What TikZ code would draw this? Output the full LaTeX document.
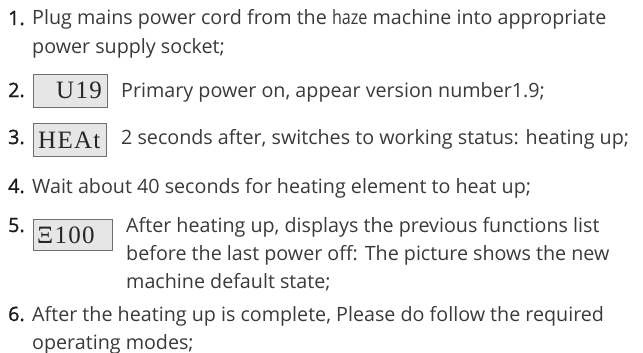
\documentclass[tikz,border=0pt]{standalone}
\usepackage{fontspec}
\setmainfont{Open Sans}
\newfontfamily\lcdfont[LetterSpace=5]{Liberation Serif}
\newfontfamily\numfont[FakeBold=1.2]{Open Sans}
\definecolor{txtc}{HTML}{3A3A3A}
\definecolor{numc}{HTML}{1A1A1A}
\definecolor{boxfill}{HTML}{E6E6E6}
\definecolor{boxline}{HTML}{6E6E6E}
\begin{document}
\begin{tikzpicture}[x=1pt,y=-1pt,
  line/.style={anchor=base west, inner sep=0pt, text=txtc, font=\fontsize{19.7}{29}\selectfont},
  num/.style={anchor=base west, inner sep=0pt, text=numc, font=\numfont\fontsize{19.7}{29}\selectfont},
  lcd/.style={draw=boxline, fill=boxfill, line width=1pt, anchor=north west, inner sep=0pt},
  lcdtext/.style={anchor=base west, inner sep=0pt, text=black!85, font=\lcdfont\fontsize{25}{25}\selectfont}]
\useasboundingbox (0,0) rectangle (643,353);
% item 1
\node[num] (n1) at (8,25) {1.};
\node[line] (t1a) at (32,25) {Plug mains power cord from the \scalebox{0.82}[1]{haze} machine into appropriate};
\node[line] (t1b) at (32,54) {power supply socket;};
% item 2
\node[num] (n2) at (8,97) {2.};
\node[lcd, minimum width=74pt, minimum height=33pt] (b2) at (33,74) {};
\node[lcdtext] (d2) at (56,99) {U19};
\node[line] (t2) at (121,97) {Primary power on, appear version number1.9;};
% item 3
\node[num] (n3) at (8,144) {3.};
\node[lcd, minimum width=73pt, minimum height=33pt] (b3) at (33,123) {};
\node[lcdtext] (d3) at (38,148) {HEAt};
\node[line] (t3) at (121,144) {2 seconds after, switches to working status: heating up;};
% item 4
\node[num] (n4) at (8,193) {4.};
\node[line] (t4) at (32,193) {Wait about 40 seconds for heating element to heat up;};
% item 5
\node[num] (n5) at (8,232) {5.};
\node[lcd, minimum width=79pt, minimum height=31pt] (b5) at (33,219) {};
\node[lcdtext] (d5) at (37,243) {Ξ100};
\node[line] (t5a) at (126,232) {After heating up, displays the previous functions list};
\node[line] (t5b) at (126,260) {before the last power off: The picture shows the new};
\node[line] (t5c) at (126,288) {machine default state;};
% item 6
\node[num] (n6) at (8,321) {6.};
\node[line] (t6a) at (32,321) {After the heating up is complete, Please do follow the required};
\node[line] (t6b) at (32,349) {operating modes;};
\end{tikzpicture}
\end{document}
